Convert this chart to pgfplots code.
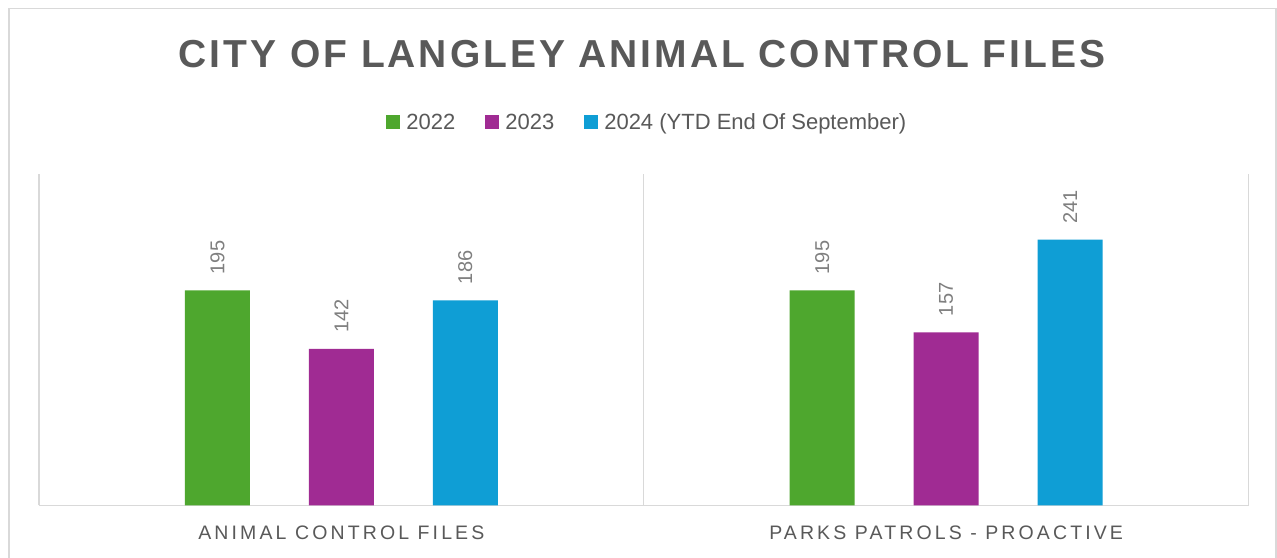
\documentclass[border=0pt]{standalone}
\usepackage{fontspec}
\setmainfont{Liberation Sans}
\usepackage{pgfplots}
\pgfplotsset{compat=1.18}
\newfontfamily\titlefont[LetterSpace=7.5]{Liberation Sans}
\newfontfamily\catfont[LetterSpace=16]{Liberation Sans}
\definecolor{cgreen}{HTML}{4EA72E}
\definecolor{cpurple}{HTML}{A02B93}
\definecolor{cblue}{HTML}{0F9ED5}
\definecolor{txt}{HTML}{595959}
\definecolor{lbl}{HTML}{7F7F7F}
\definecolor{gridc}{HTML}{D9D9D9}
\pgfplotsset{sqlegend/.style={legend image code/.code={\fill[##1] (0bp,-7bp) rectangle (14bp,7bp);}}}
\begin{document}
\begin{tikzpicture}
\useasboundingbox (0,0) rectangle (1277bp,558bp);
\fill[white] (0,0) rectangle (1277bp,558bp);
\begin{scope}
\clip (0,0) rectangle (1277bp,558bp);
\draw[gridc, line width=1.2bp] (9bp,-10bp) -- (9bp,549.7bp) -- (1276bp,549.7bp) -- (1276bp,-10bp);
\end{scope}
\begin{axis}[
  at={(39bp,52.5bp)}, anchor=south west,
  width=1209.5bp, height=331bp, scale only axis,
  xmin=-0.5, xmax=1.5, ymin=0, ymax=300,
  ybar, clip=false,
  /pgf/number format/assume math mode=true,
  axis x line=bottom, axis y line=none,
  x axis line style={-, draw=gridc, line width=1.2bp},
  xtick={0,1},
  xticklabels={{ANIMAL CONTROL FILES},{PARKS PATROLS - PROACTIVE}},
  xticklabel style={anchor=north, inner sep=0pt, yshift=-20.5bp, font=\catfont\fontsize{19.5bp}{23bp}\selectfont, text=txt},
  ytick=\empty,
  major tick length=0pt,
  extra x ticks={-0.5,0.5,1.5},
  extra x tick labels={},
  extra x tick style={grid=major, major grid style={draw=gridc, line width=1.2bp}, major tick length=0pt},
  title={\titlefont\bfseries CITY OF LANGLEY ANIMAL CONTROL FILES},
  title style={at={(0.4986,1.346)}, anchor=center, inner sep=0pt, font=\fontsize{39bp}{47bp}\selectfont, text=txt},
  legend style={at={(0.503,1.1586)}, anchor=center, draw=none, fill=none,
    font=\fontsize{22bp}{26bp}\selectfont, text=txt,
    nodes={text height=20bp, text depth=4.6bp},
    /tikz/every odd column/.append style={column sep=4bp},
    /tikz/every even column/.append style={column sep=28bp}},
  legend columns=-1,
  nodes near coords,
  nodes near coords style={rotate=90, anchor=west, inner xsep=16bp, inner ysep=0pt, font=\fontsize{20bp}{24bp}\selectfont, text=lbl},
]
\addplot[ybar, bar width=0.1075, bar shift=-0.205, fill=cgreen, draw=none, sqlegend] coordinates {(0,195) (1,195)};
\addplot[ybar, bar width=0.1075, bar shift=0, fill=cpurple, draw=none, sqlegend] coordinates {(0,142) (1,157)};
\addplot[ybar, bar width=0.1075, bar shift=0.205, fill=cblue, draw=none, sqlegend] coordinates {(0,186) (1,241)};
\legend{2022, 2023, 2024 (YTD End Of September)}
\end{axis}
\end{tikzpicture}
\end{document}
